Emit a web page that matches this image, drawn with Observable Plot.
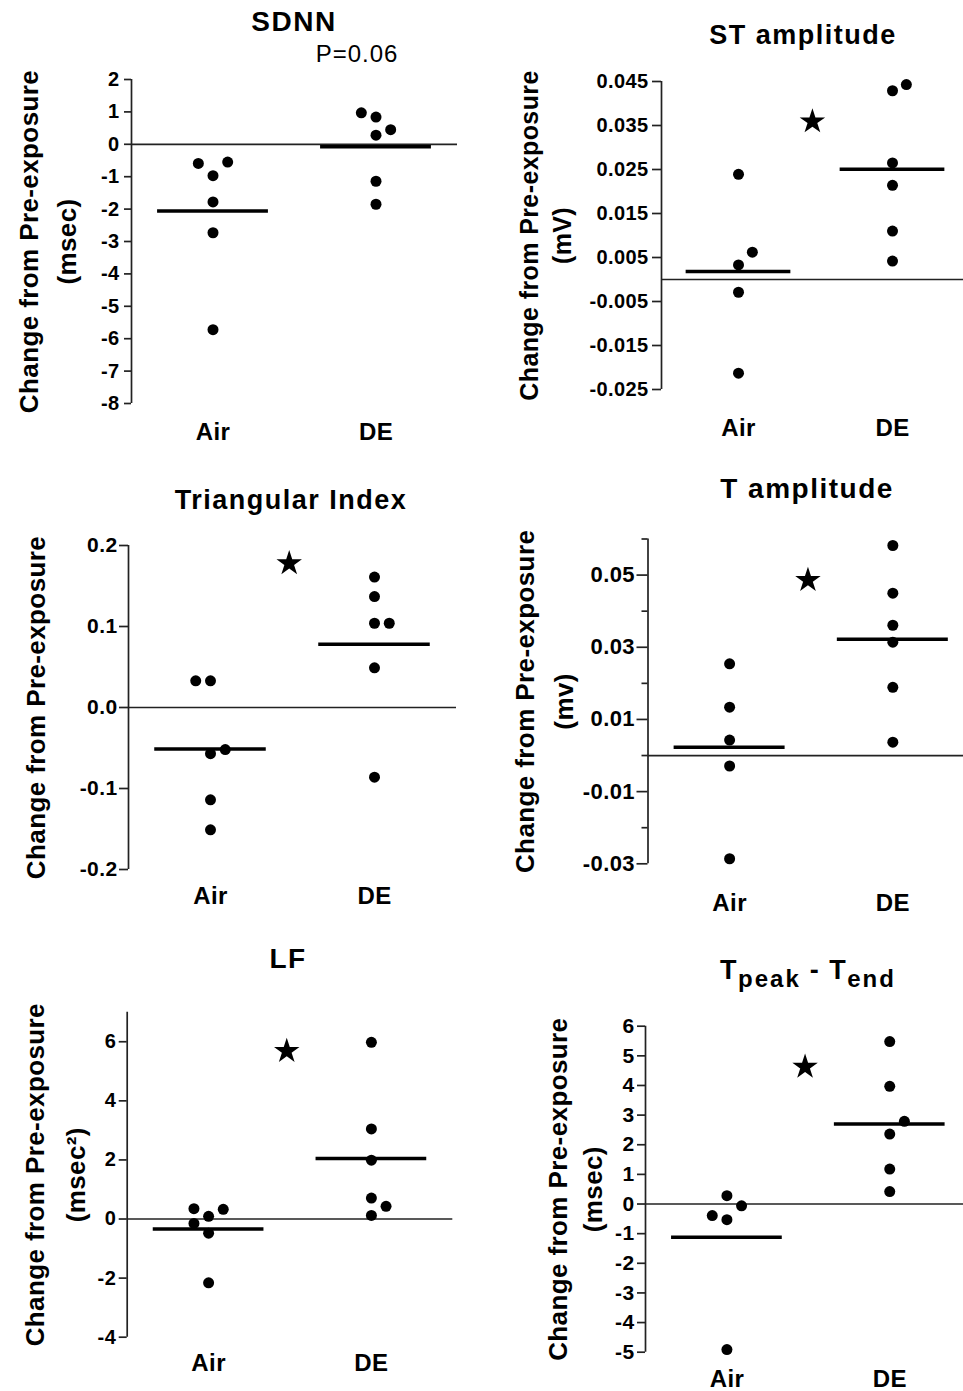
<!DOCTYPE html>
<html>
<head>
<meta charset="utf-8">
<script src="https://cdn.jsdelivr.net/npm/d3@7"></script>
<script src="https://cdn.jsdelivr.net/npm/@observablehq/plot@0.6"></script>
<style>
  html, body { margin: 0; padding: 0; background: #fff; }
  #root { position: relative; width: 963px; height: 1391px; overflow: hidden; font-family: "Liberation Sans", Arial, sans-serif; }
  .panel { position: absolute; }
  .title { position: absolute; width: 320px; text-align: center; font-weight: bold; font-size: 27px; line-height: 27px; letter-spacing: 1.5px; color: #000; white-space: nowrap; }
  .ptext { position: absolute; width: 200px; text-align: center; font-size: 24px; line-height: 24px; letter-spacing: 1px; color: #000; }
  .sub { font-size: 24px; position: relative; top: 8px; letter-spacing: 2px; }
</style>
</head>
<body>
<div id="root"></div>
<script>
// ---------- data ----------
const groups = ["Air", "DE"];

// SDNN (msec)
const sdnnAir    = [-0.59, -0.55, -0.97, -1.78, -2.73, -5.72];
const sdnnAirCol = [-1, 1, 0, 0, 0, 0];
const sdnnDE     = [0.97, 0.84, 0.45, 0.28, -1.14, -1.85];
const sdnnDECol  = [-1, 0, 1, 0, 0, 0];
const sdnnTicks  = [2, 1, 0, -1, -2, -3, -4, -5, -6, -7, -8];

// ST amplitude (mV)
const stAir    = [0.0239, 0.0062, 0.0033, -0.0029, -0.0213];
const stAirCol = [0, 1, 0, 0, 0];
const stDE     = [0.0443, 0.0429, 0.0265, 0.0214, 0.0110, 0.0042];
const stDECol  = [1, 0, 0, 0, 0, 0];
const stTicks  = [0.045, 0.035, 0.025, 0.015, 0.005, -0.005, -0.015, -0.025];
const stStar   = [0.0359];

// Triangular Index
const triAir    = [0.033, 0.033, -0.052, -0.057, -0.114, -0.151];
const triAirCol = [-1, 0, 1, 0, 0, 0];
const triDE     = [0.161, 0.137, 0.104, 0.104, 0.049, -0.086];
const triDECol  = [0, 0, 0, 1, 0, 0];
const triTicks  = [0.2, 0.1, 0, -0.1, -0.2];
const triStar   = [0.178];

// T amplitude (mv)
const tAir      = [0.0254, 0.0134, 0.0043, -0.0029, -0.0286];
const tAirCol   = [0, 0, 0, 0, 0];
const tDE       = [0.0582, 0.0450, 0.0361, 0.0314, 0.0189, 0.0037];
const tDECol    = [0, 0, 0, 0, 0, 0];
const tTicks    = [0.05, 0.03, 0.01, -0.01, -0.03];
const tMinorTicks = [0.06, 0.04, 0.02, 0, -0.02];
const tStar     = [0.0486];

// LF (msec^2)
const lfAir    = [0.35, 0.33, 0.09, -0.15, -0.48, -2.16];
const lfAirCol = [-1, 1, 0, -1, 0, 0];
const lfDE     = [5.98, 3.05, 1.99, 0.71, 0.43, 0.12];
const lfDECol  = [0, 0, 0, 0, 1, 0];
const lfTicks  = [6, 4, 2, 0, -2, -4];
const lfStar   = [5.68];

// Tpeak - Tend (msec)
const tpAir    = [0.28, -0.06, -0.39, -0.53, -4.91];
const tpAirCol = [0, 1, -1, 0, 0];
const tpDE     = [5.48, 3.97, 2.79, 2.36, 1.18, 0.42];
const tpDECol  = [0, 0, 1, 0, 0, 0];
const tpTicks  = [6, 5, 4, 3, 2, 1, 0, -1, -2, -3, -4, -5];
const tpStar   = [4.63];

// ---------- layout ----------
const root = document.getElementById("root");
const JIT = 0.09;   // horizontal offset of side-by-side dots (x units)
const HALF = 0.34;  // half-width of mean bar (x units)

function build(p) {
  const pts = [
    ...p.air.map((v, i) => ({g: 0, v, c: p.airCol[i]})),
    ...p.de.map((v, i) => ({g: 1, v, c: p.deCol[i]}))
  ];
  const means = [0, 1].map(g => ({g, v: d3.mean(pts.filter(d => d.g === g), d => d.v)}));
  const marks = [
    Plot.ruleX([-0.5], {y1: p.y[0], y2: p.y[1], stroke: "#222", strokeWidth: 1.7}),
    Plot.axisY(p.ticks, {tickSize: p.tickSize, tickPadding: p.tickPad, tickFormat: p.fmt,
      fontSize: p.tickFont, fontWeight: "bold", label: null, strokeWidth: 1.7, stroke: "#222"}),
  ];
  if (p.minor) marks.push(Plot.axisY(p.minor, {tickSize: 6, tickFormat: () => "", label: null, strokeWidth: 1.7, stroke: "#222"}));
  marks.push(
    Plot.ruleY([0], {stroke: "#222", strokeWidth: 1.7}),
    Plot.ruleY(means, {y: "v", x1: d => d.g - HALF, x2: d => d.g + HALF, stroke: "#000", strokeWidth: 3.5}),
    Plot.dot(pts, {x: d => d.g + d.c * JIT, y: "v", r: 5.5, fill: "#000", stroke: null}),
    Plot.axisX([0, 1], {tickSize: 0, tickPadding: p.xPad, tickFormat: i => groups[i],
      fontSize: 24, fontWeight: "bold", label: null}),
    Plot.text([p.label], {text: d => d, frameAnchor: "left", rotate: -90, dx: p.labelDx,
      fontSize: p.labelFont || 26, fontWeight: "bold", lineHeight: p.lineHeight, lineAnchor: "middle", textAnchor: "middle"})
  );
  if (p.star) marks.push(Plot.dot(p.star, {x: () => 0.48, y: d => d, symbol: "star", r: 8, fill: "#000", stroke: null}));

  const chart = Plot.plot({
    width: p.width, height: p.height,
    marginLeft: p.ml, marginRight: p.mr, marginTop: p.mt, marginBottom: p.mb,
    x: {domain: [-0.5, p.xmax], axis: null},
    y: {domain: p.y, axis: null},
    style: "font-family: 'Liberation Sans', Arial, sans-serif; background: transparent; overflow: visible; letter-spacing: 0.4px; max-width: none; color: #000;",
    marks
  });
  const div = document.createElement("div");
  div.className = "panel";
  div.style.left = p.left + "px";
  div.style.top = p.top + "px";
  div.appendChild(chart);
  root.appendChild(div);
}

const intFmt = d => String(d);
const panels = [
  {air: sdnnAir, airCol: sdnnAirCol, de: sdnnDE, deCol: sdnnDECol, ticks: sdnnTicks, fmt: intFmt,
   left: 0, top: 0, width: 481, height: 460, ml: 131, mr: 24, mt: 79, mb: 57, xmax: 1.5, y: [-8, 2],
   tickSize: 7, tickPad: 5, tickFont: 20, xPad: 19, label: "Change from Pre-exposure\n(msec)", labelDx: -87, lineHeight: 1.46},
  {air: stAir, airCol: stAirCol, de: stDE, deCol: stDECol, ticks: stTicks, fmt: d => d.toFixed(3), star: stStar,
   left: 481, top: 0, width: 482, height: 460, ml: 180, mr: 0, mt: 81, mb: 71, xmax: 1.461, y: [-0.025, 0.045],
   tickSize: 9, tickPad: 4, tickFont: 20, xPad: 29, label: "Change from Pre-exposure\n(mV)", labelDx: -117.5, lineHeight: 1.32, labelFont: 25},
  {air: triAir, airCol: triAirCol, de: triDE, deCol: triDECol, ticks: triTicks, fmt: d => d.toFixed(1), star: triStar,
   left: 0, top: 460, width: 481, height: 465, ml: 128, mr: 25, mt: 85, mb: 56, xmax: 1.5, y: [-0.2, 0.2],
   tickSize: 9, tickPad: 2, tickFont: 21, xPad: 17, label: "Change from Pre-exposure", labelDx: -93, lineHeight: 1.2},
  {air: tAir, airCol: tAirCol, de: tDE, deCol: tDECol, ticks: tTicks, minor: tMinorTicks, fmt: d => d.toFixed(2), star: tStar,
   left: 481, top: 460, width: 482, height: 465, ml: 166.5, mr: 0, mt: 78.5, mb: 61.7, xmax: 1.433, y: [-0.03, 0.06],
   tickSize: 11, tickPad: 2, tickFont: 22, xPad: 30, label: "Change from Pre-exposure\n(mv)", labelDx: -106.7, lineHeight: 1.47},
  {air: lfAir, airCol: lfAirCol, de: lfDE, deCol: lfDECol, ticks: lfTicks, fmt: intFmt, star: lfStar,
   left: 0, top: 925, width: 481, height: 466, ml: 126.7, mr: 28.7, mt: 86.7, mb: 54.3, xmax: 1.5, y: [-4, 7],
   tickSize: 8, tickPad: 3, tickFont: 20, xPad: 17, label: "Change from Pre-exposure\n(msec\u00B2)", labelDx: -76, lineHeight: 1.6},
  {air: tpAir, airCol: tpAirCol, de: tpDE, deCol: tpDECol, ticks: tpTicks, fmt: intFmt, star: tpStar,
   left: 481, top: 925, width: 482, height: 466, ml: 164, mr: 0, mt: 100.7, mb: 39.3, xmax: 1.453, y: [-5, 6],
   tickSize: 8, tickPad: 3, tickFont: 21, xPad: 18, label: "Change from Pre-exposure\n(msec)", labelDx: -72.5, lineHeight: 1.35}
];
panels.forEach(build);

// titles (HTML text, centred at measured positions)
const titles = [
  {html: "SDNN", cx: 294, top: 8, size: 28},
  {html: "ST amplitude", cx: 803, top: 21.5},
  {html: "Triangular Index", cx: 291, top: 486.5},
  {html: "T amplitude", cx: 807, top: 474.5, size: 28},
  {html: "LF", cx: 288, top: 944.5, size: 28},
  {html: "T<span class='sub'>peak</span> - T<span class='sub'>end</span>", cx: 808, top: 956.5}
];
titles.forEach(t => {
  const d = document.createElement("div");
  d.className = "title";
  d.innerHTML = t.html;
  d.style.left = (t.cx - 160) + "px";
  d.style.top = t.top + "px";
  if (t.size) { d.style.fontSize = t.size + "px"; d.style.lineHeight = t.size + "px"; }
  root.appendChild(d);
});
const pv = document.createElement("div");
pv.className = "ptext";
pv.textContent = "P=0.06";
pv.style.left = (357 - 100) + "px";
pv.style.top = "42px";
root.appendChild(pv);
</script>
</body>
</html>
